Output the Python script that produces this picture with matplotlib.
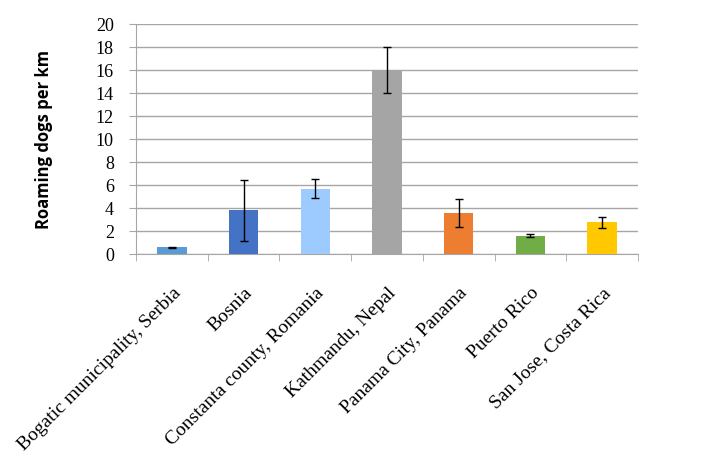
import numpy as np
import matplotlib.pyplot as plt
from matplotlib.transforms import ScaledTranslation

# Data
sites = ["Bogatic municipality, Serbia", "Bosnia", "Constanta county, Romania",
         "Kathmandu, Nepal", "Panama City, Panama", "Puerto Rico", "San Jose, Costa Rica"]
dogs_per_km = [0.6, 3.8, 5.7, 16.0, 3.6, 1.6, 2.75]
err = [0.06, 2.65, 0.82, 2.0, 1.2, 0.15, 0.45]
colors = ["#5B9BD5", "#4472C4", "#9DCBFF", "#A5A5A5", "#ED7D31", "#70AD47", "#FFC800"]
yticks = list(range(0, 21, 2))

fig = plt.figure(figsize=(7.05, 4.53), dpi=100)
ax = fig.add_axes([0.193, 0.439, 0.712, 0.508])

x = np.arange(len(sites))
ax.bar(x, dogs_per_km, width=0.41, color=colors, zorder=3,
       yerr=err, capsize=3, error_kw=dict(ecolor="black", elinewidth=1, capthick=1))

ax.set_xlim(-0.5, len(sites) - 0.5)
ax.set_ylim(0, 20)
ax.set_yticks(yticks)
ax.grid(axis="y", color="#A6A6A6", linewidth=1, zorder=0)

for s in ["top", "right"]:
    ax.spines[s].set_visible(False)
ax.spines["left"].set_color("#A6A6A6")
ax.spines["bottom"].set_color("#A6A6A6")

ax.set_xticks(x)
ax.set_xticklabels(sites, rotation=45, ha="right", va="top", rotation_mode="anchor",
                   fontfamily="Liberation Serif", fontsize=14)
shift = ScaledTranslation(-2 / 100, 0, fig.dpi_scale_trans)
for lab in ax.get_xticklabels():
    lab.set_transform(lab.get_transform() + shift)
ax.set_xticks(np.arange(-0.5, len(sites), 1), minor=True)
ax.tick_params(axis="x", which="major", length=0, pad=22)
ax.tick_params(axis="x", which="minor", length=5, color="#A6A6A6")
ax.tick_params(axis="y", length=5, color="#A6A6A6", pad=11)

ax.set_ylabel("Roaming dogs per km", fontweight="bold", fontsize=12,
              fontfamily="Open Sans", labelpad=31)

fig.canvas.draw()
for t in ax.yaxis.get_major_ticks():
    t.label1.set_fontfamily("Liberation Serif")
    t.label1.set_fontsize(13)

fig.savefig("out.png", dpi=100)
